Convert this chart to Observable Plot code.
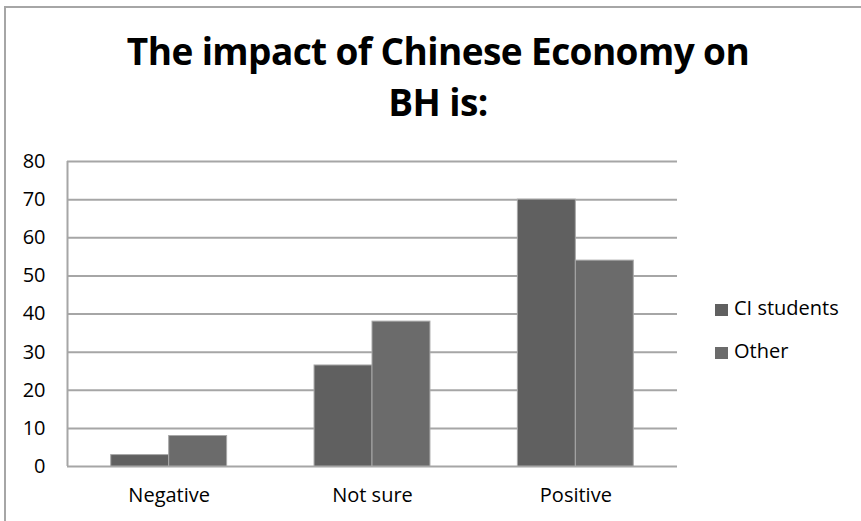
<!DOCTYPE html>
<html><head><meta charset="utf-8">
<script src="https://cdn.jsdelivr.net/npm/d3@7"></script>
<script src="https://cdn.jsdelivr.net/npm/@observablehq/plot@0.6"></script>
<style>
body{margin:0;background:#fff;}
#wrap{position:relative;width:861px;height:521px;overflow:hidden;font-family:"Open Sans",sans-serif;background:#fff;}
#frame{position:absolute;left:4px;top:6px;width:900px;height:600px;border-left:2px solid #a6a6a6;border-top:2px solid #a6a6a6;}
#chart{position:absolute;left:0;top:0;}
#title{position:absolute;left:0;width:876px;top:25px;text-align:center;font-weight:bold;font-size:37px;line-height:51px;color:#000;letter-spacing:-0.6px;}
.leg{position:absolute;left:715px;font-size:20px;color:#000;white-space:nowrap;}
.leg span.sw{position:absolute;left:0;width:13px;height:12px;}
.leg span.tx{position:absolute;left:19px;top:0;line-height:20px;}
</style>
</head><body>
<div id="wrap">
  <div id="frame"></div>
  <div id="chart"></div>
  <div id="title">The impact of Chinese Economy on<br>BH is:</div>
</div>
<script>
const categories = ["Negative", "Not sure", "Positive"];
const series = ["CI students", "Other"];
const ciStudents = [3, 26.5, 70];
const other = [8, 38, 54];
const yTicks = [0, 10, 20, 30, 40, 50, 60, 70, 80];
const colors = ["#606060", "#6b6b6b"];

const values = [ciStudents, other];
const barW = 0.285;
const rows = [];
categories.forEach((c, i) => {
  series.forEach((s, j) => {
    const x1 = i + 0.5 - barW + j * barW;
    rows.push({category: c, series: s, value: values[j][i], x1, x2: x1 + barW});
  });
});

const chart = Plot.plot({
  width: 861,
  height: 521,
  marginLeft: 67,
  marginRight: 184,
  marginTop: 161,
  marginBottom: 55,
  style: {fontFamily: "'Open Sans', sans-serif", fontSize: "20px", color: "#000", background: "transparent"},
  x: {domain: [0, 3]},
  y: {domain: [0, 80]},
  color: {domain: series, range: colors},
  marks: [
    Plot.gridY(yTicks, {stroke: "#a6a6a6", strokeOpacity: 1, strokeWidth: 2}),
    Plot.ruleX([0], {stroke: "#a6a6a6", strokeWidth: 2}),
    Plot.rect(rows, {x1: "x1", x2: "x2", y1: 0, y2: "value", fill: "series", stroke: "#a8a8a8", strokeWidth: 1}),
    Plot.axisY(yTicks, {tickSize: 0, tickPadding: 22, fontSize: 20, label: null, fill: "#000"}),
    Plot.axisX(categories.map((c, i) => i + 0.5), {tickSize: 0, tickPadding: 21, fontSize: 20, label: null, fill: "#000",
      tickFormat: d => categories[Math.floor(d)]})
  ]
});
document.getElementById("chart").appendChild(chart);

const wrap = document.getElementById("wrap");
const legTops = [298, 341];
series.forEach((s, j) => {
  const d = document.createElement("div");
  d.className = "leg";
  d.style.top = legTops[j] + "px";
  const sw = document.createElement("span");
  sw.className = "sw";
  sw.style.background = colors[j];
  sw.style.top = "6px";
  const tx = document.createElement("span");
  tx.className = "tx";
  tx.textContent = s;
  d.appendChild(sw);
  d.appendChild(tx);
  wrap.appendChild(d);
});
</script>
</body></html>
